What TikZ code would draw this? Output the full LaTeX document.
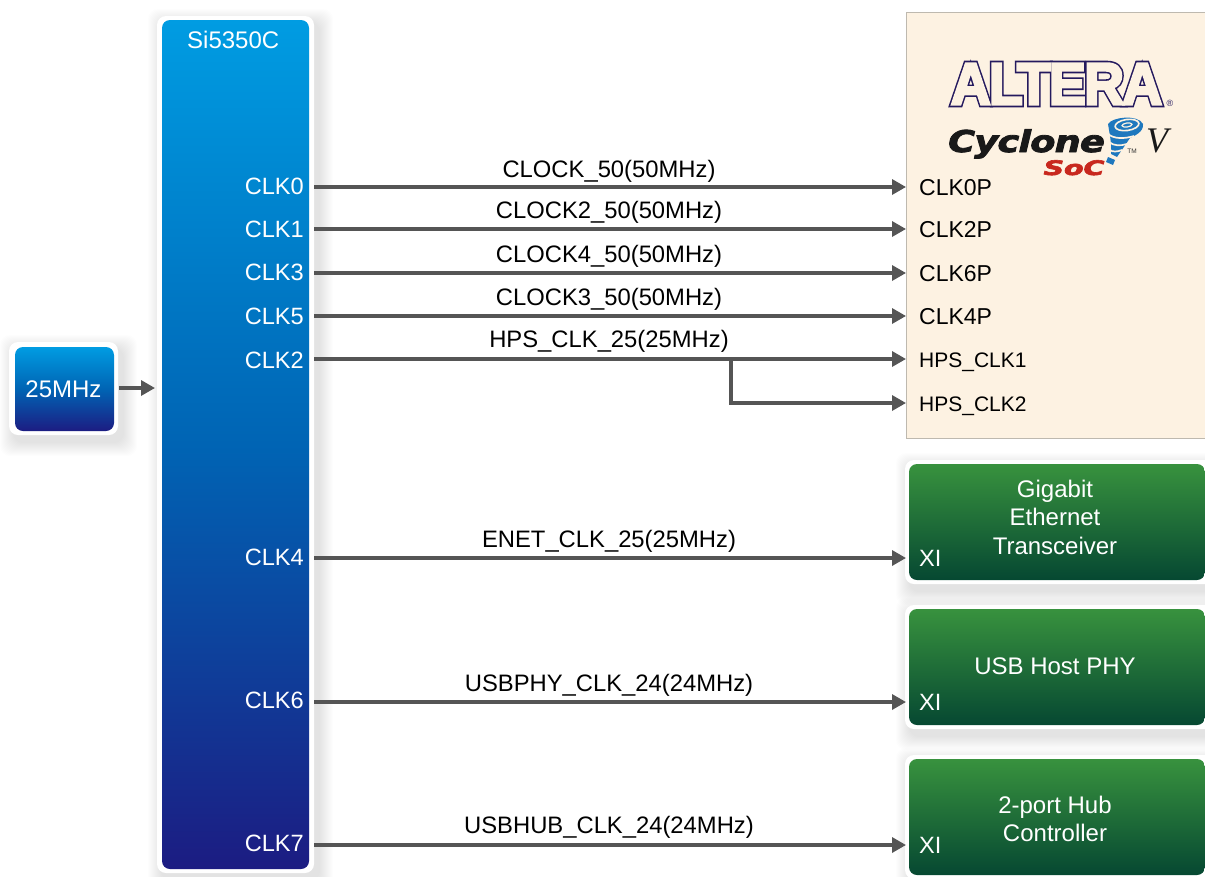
\documentclass[tikz,border=0pt]{standalone}
\usepackage{graphicx}
\usepackage{fontspec}
\setmainfont{Liberation Sans}
\newfontfamily\heavyfont{DejaVu Sans}[BoldFont=* Bold]
\newfontfamily\vfont{Liberation Serif}
\usetikzlibrary{arrows.meta}
\definecolor{wirec}{RGB}{85,85,85}
\definecolor{creamc}{RGB}{253,242,226}
\definecolor{creamb}{RGB}{190,185,175}
\definecolor{logoc}{RGB}{35,25,95}
\definecolor{socc}{RGB}{200,40,30}
\definecolor{torc}{RGB}{30,120,190}
\newcommand{\softshadow}[4]{%
  \foreach \d in {1,...,14}{
    \fill[black,opacity=0.009,rounded corners=10pt]
      (#1-\d+5,#2-\d+7) rectangle (#3+\d+5,#4+\d+7);}}
% stroked text: #1 line width, #2 stroke colour as RGB operands, #3 text
\newcommand{\strokedtext}[3]{\special{pdf:literal direct 2 Tr #1 w #2 RG}#3\special{pdf:literal direct 0 Tr 0 G}}
\newcommand{\alterafont}{\bfseries\fontsize{59}{59}\selectfont\addfontfeatures{LetterSpace=-3}}
\tikzset{
  wire/.style={draw=wirec,line width=3.3pt,-{Triangle[length=14pt,width=15pt]}},
  frame/.style={fill=white,rounded corners=9pt},
  blueface/.style={rounded corners=8pt,top color=blueA,bottom color=blueC,middle color=blueB},
  greenface/.style={rounded corners=8pt,top color=greenA,bottom color=greenB},
  whitelabel/.style={text=white,font=\fontsize{23.6}{26}\selectfont,inner sep=0pt,text height=16pt,text depth=0pt},
  portlabel/.style={text=black,font=\fontsize{23}{26}\selectfont,inner sep=0pt,text height=16pt,text depth=0pt},
  hpslabel/.style={text=black,font=\fontsize{21}{26}\selectfont,inner sep=0pt,text height=16pt,text depth=0pt},
  netlabel/.style={text=black,font=\fontsize{23.8}{26}\selectfont,inner sep=0pt},
  titlelabel/.style={text=white,font=\fontsize{24}{28.5}\selectfont,align=center,inner sep=0pt},
}
\definecolor{blueA}{RGB}{0,156,226}
\definecolor{blueB}{RGB}{0,100,180}
\definecolor{blueC}{RGB}{28,28,130}
\definecolor{greenA}{RGB}{56,146,62}
\definecolor{greenB}{RGB}{6,72,50}
\begin{document}
\begin{tikzpicture}[x=1pt,y=-1pt]
\useasboundingbox (0,0) rectangle (1205,876);
\fill[white] (0,0) rectangle (1205,876);
% --- clock source
\softshadow{9}{342}{118}{435}
\fill[frame] (9,342) rectangle (118,435);
\shade[blueface] (15,347) rectangle (114,431);
\node[titlelabel] (osc) at (63.5,389) {25MHz};
% --- Si5350C
\softshadow{157}{16}{314}{873}
\fill[frame] (157,16) rectangle (314,873);
\shade[blueface] (162,20) rectangle (309,869);
\node[titlelabel,anchor=west] (si) at (187,40) {Si5350C};
% --- FPGA
\fill[creamc,draw=creamb,line width=1pt] (1210,12) -- (906,12) -- (906,438) -- (1210,438);
% --- green blocks
\foreach \ya/\yb in {464/580,609/725,759/875}{
  \softshadow{905}{\ya-4}{1215}{\yb+4}
  \fill[frame] (905,\ya-4) rectangle (1215,\yb+4);
  \shade[greenface] (909,\ya) rectangle (1205,\yb);
}
\node[titlelabel] (gbe) at (1055,517) {Gigabit\\Ethernet\\Transceiver};
\node[titlelabel] (usbphy) at (1055,666) {USB Host PHY};
\node[titlelabel] (hub) at (1055,819) {2-port Hub\\Controller};
% --- outputs of Si5350C
\foreach \n/\t/\y in {clkA/CLK0/186,clkB/CLK1/229,clkC/CLK3/272,clkD/CLK5/316,clkE/CLK2/360,clkF/CLK4/557,clkG/CLK6/700,clkH/CLK7/843}
  \node[whitelabel,anchor=east] (\n) at (304,\y) {\t};
% --- FPGA pins
\foreach \n/\t/\y in {pinA/CLK0P/187,pinB/CLK2P/229,pinC/CLK6P/273,pinD/CLK4P/316}
  \node[portlabel,anchor=west] (\n) at (919,\y) {\t};
\foreach \n/\t/\y in {pinE/HPS\_CLK1/359,pinF/HPS\_CLK2/403}
  \node[hpslabel,anchor=west] (\n) at (919,\y) {\t};
% --- XI pins
\foreach \n/\y in {xiA/558,xiB/702,xiC/845}
  \node[whitelabel,anchor=west] (\n) at (919,\y) {XI};
% --- connectors
\coordinate (oscout) at (119,388);
\coordinate (siin) at (155,388);
\draw[wire] (oscout) -- (siin);
\foreach \a/\b in {clkA/pinA,clkB/pinB,clkC/pinC,clkD/pinD,clkE/pinE,clkF/xiA,clkG/xiB,clkH/xiC}
  \draw[wire,shorten <=10pt,shorten >=13pt] (\b.west -| \a.east) -- (\b.west);
\coordinate (branch) at (731,359);
\draw[wire,shorten >=13pt] (branch) |- (pinF.west);
% --- net names
\foreach \n/\t/\y in {netA/CLOCK\_50(50MHz)/171,netB/CLOCK2\_50(50MHz)/212,netC/CLOCK4\_50(50MHz)/256,netD/CLOCK3\_50(50MHz)/299,netE/HPS\_CLK\_25(25MHz)/341,netF/ENET\_CLK\_25(25MHz)/541,netG/USBPHY\_CLK\_24(24MHz)/685,netH/USBHUB\_CLK\_24(24MHz)/827}
  \node[netlabel] (\n) at (609,\y) {\t};
% --- logo
\node[inner sep=0pt,text=logoc] (alteraback) at (1056.5,84)
  {\scalebox{0.935}[1]{\alterafont\strokedtext{6}{0.14 0.1 0.37}{ALTERA}}};
\node[inner sep=0pt,text=creamc] (alteraface) at (alteraback.center)
  {\scalebox{0.935}[1]{\alterafont\strokedtext{2.8}{0.992 0.949 0.886}{ALTERA}}};
\node[inner sep=0pt,text=logoc,font=\fontsize{9}{9}\selectfont] (reg) at (1170,103) {®};
\node[inner sep=0pt,text=black!90,anchor=base west] (cyc) at (948,152)
  {\scalebox{1.22}[1]{\heavyfont\bfseries\itshape\fontsize{30}{30}\selectfont\addfontfeatures{LetterSpace=-2}\strokedtext{0.8}{0.1 0.1 0.1}{Cyclone}}};
\node[inner sep=0pt,text=black!90,anchor=base west] (vv) at (1146,152) {\vfont\itshape\fontsize{36}{36}\selectfont V};
\node[inner sep=0pt,text=socc,anchor=base] (soc) at (1074,175)
  {\scalebox{1.42}[1]{\heavyfont\bfseries\itshape\fontsize{20}{20}\selectfont\strokedtext{0.6}{0.784 0.157 0.118}{SoC}}};
\node[inner sep=0pt,font=\fontsize{6.5}{6.5}\selectfont,text=black!80] (tm) at (1132,151) {TM};
% tornado
\fill[torc] (1108,124) .. controls (1112,117) and (1138,114) .. (1143,124)
  .. controls (1144,132) and (1134,136) .. (1130,138)
  -- (1117,157) -- (1111,154)
  .. controls (1112,146) and (1110,136) .. (1108,124) -- cycle;
\draw[creamc,line width=1.6pt,rotate around={8:(1127,125)}] (1127,125) ellipse (12pt and 5.5pt);
\draw[creamc,line width=1.2pt,rotate around={8:(1127,125)}] (1127,125) ellipse (5pt and 2pt);
\draw[creamc,line width=1.7pt] (1108,134) .. controls (1114,139) and (1124,139) .. (1134,136);
\draw[creamc,line width=1.7pt] (1109,142) .. controls (1114,146) and (1120,146) .. (1127,144);
\draw[creamc,line width=1.7pt] (1109,150) .. controls (1113,152) and (1117,152) .. (1122,150);
\fill[torc] (1108,157) -- (1115,160) -- (1113,165) -- (1106,162) -- cycle;
\end{tikzpicture}
\end{document}
